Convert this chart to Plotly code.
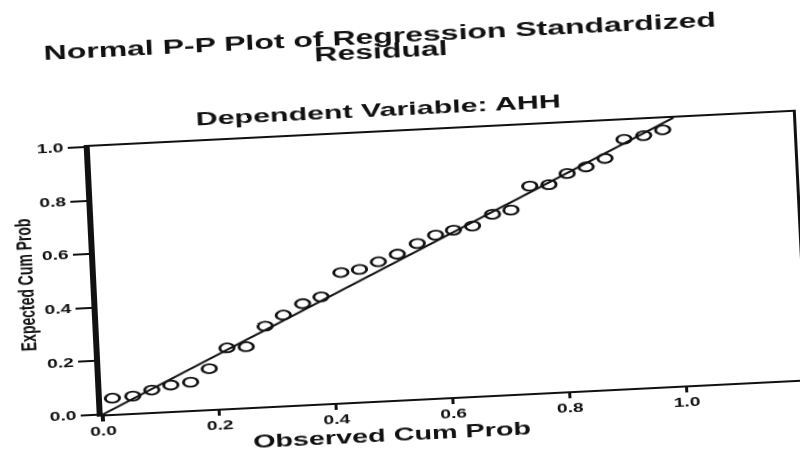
import plotly.graph_objects as go

# Observed vs expected cumulative probabilities of the standardized residuals
observed_cum_prob = [0.018, 0.053, 0.086, 0.119, 0.153, 0.186, 0.218, 0.251, 0.285, 0.317,
                     0.351, 0.383, 0.419, 0.451, 0.484, 0.517, 0.552, 0.584, 0.615, 0.648,
                     0.683, 0.715, 0.749, 0.782, 0.814, 0.847, 0.880, 0.914, 0.948, 0.981]
expected_cum_prob = [0.059, 0.063, 0.082, 0.097, 0.104, 0.151, 0.225, 0.226, 0.299, 0.337,
                     0.376, 0.398, 0.485, 0.493, 0.518, 0.543, 0.579, 0.607, 0.622, 0.634,
                     0.674, 0.686, 0.772, 0.774, 0.812, 0.833, 0.861, 0.929, 0.939, 0.957]

# Reference diagonal (perfect normality)
diag_x = [0.0, 1.0]
diag_y = [0.0, 1.0]

tick_vals = [0.0, 0.2, 0.4, 0.6, 0.8, 1.0]
tick_text = ["0.0", "0.2", "0.4", "0.6", "0.8", "1.0"]

title_line1 = "Normal P-P Plot of Regression Standardized"
title_line2 = "Residual"
subtitle = "Dependent Variable: AHH"
x_title = "Observed Cum Prob"
y_title = "Expected Cum Prob"

INK = "#111111"
FONT = "Liberation Sans, Arial, sans-serif"

fig = go.Figure()

fig.add_trace(go.Scatter(
    x=diag_x, y=diag_y, mode="lines",
    line=dict(color=INK, width=1.8),
    hoverinfo="skip", showlegend=False,
))

fig.add_trace(go.Scatter(
    x=observed_cum_prob, y=expected_cum_prob, mode="markers",
    marker=dict(symbol="circle-open", size=9, color=INK, line=dict(width=1.8, color=INK)),
    showlegend=False,
))

# thin right-hand frame edge
fig.add_trace(go.Scatter(x=[], y=[], yaxis="y2", showlegend=False))

fig.update_layout(
    width=510, height=453, autosize=False,
    margin=dict(l=60, r=10.4, t=131.7, b=53),
    paper_bgcolor="white", plot_bgcolor="white",
    font=dict(family=FONT, color=INK),
    xaxis=dict(
        range=[0, 1.205], tickvals=tick_vals, ticktext=tick_text,
        showgrid=False, zeroline=False,
        showline=True, linecolor=INK, linewidth=2, mirror=True,
        ticks="outside", ticklen=5, tickwidth=1.5, tickcolor=INK,
        tickfont=dict(size=12, family=FONT, weight="bold", color=INK),
    ),
    yaxis=dict(
        range=[0, 1.0], tickvals=tick_vals, ticktext=tick_text,
        showgrid=False, zeroline=False,
        showline=True, linecolor=INK, linewidth=4, mirror=False,
        ticks="outside", ticklen=10, tickwidth=1.5, tickcolor=INK,
        tickfont=dict(size=12, family=FONT, weight="bold", color=INK),
    ),
    yaxis2=dict(
        overlaying="y", side="right", range=[0, 1.0],
        showline=True, linecolor=INK, linewidth=1.6,
        showticklabels=False, ticks="", showgrid=False, zeroline=False,
    ),
    annotations=[
        dict(text=title_line1, x=0.4183, y=1.3578, xref="paper", yref="paper",
             xanchor="center", yanchor="middle", showarrow=False,
             font=dict(size=20, family=FONT, weight="bold", color=INK)),
        dict(text=title_line2, x=0.4188, y=1.3019, xref="paper", yref="paper",
             xanchor="center", yanchor="middle", showarrow=False,
             font=dict(size=20, family=FONT, weight="bold", color=INK)),
        dict(text=subtitle, x=0.4106, y=1.0857, xref="paper", yref="paper",
             xanchor="center", yanchor="middle", showarrow=False,
             font=dict(size=19, family=FONT, weight="bold", color=INK)),
        dict(text=x_title, x=0.4095, y=-0.1293, xref="paper", yref="paper",
             xanchor="center", yanchor="middle", showarrow=False,
             font=dict(size=18, family=FONT, weight="bold", color=INK)),
        dict(text=y_title, x=-0.1015, y=0.4965, xref="paper", yref="paper",
             xanchor="center", yanchor="middle", showarrow=False, textangle=-90,
             font=dict(size=14, family=FONT, weight="bold", color=INK)),
    ],
)

# Page layout: the chart sits slightly tilted and widened on the page
stretch_x = 1.6
tilt_a, tilt_b = 1.5981, -0.0795
tilt_c, tilt_d = 0.04845, 0.99888
shift_e, shift_f = -12.57, 19.72
matrix_css = "matrix(%g, %g, %g, %g, %g, %g)" % (tilt_a, tilt_b, tilt_c, tilt_d, shift_e, shift_f)

post_js = (
    "var gd = document.getElementById('{plot_id}');"
    "document.documentElement.style.overflow = 'hidden';"
    "document.body.style.overflow = 'hidden';"
    "document.body.style.margin = '0';"
    "gd.style.position = 'fixed'; gd.style.left = '0px'; gd.style.top = '0px';"
    "gd.style.transformOrigin = '0 0';"
    "gd.style.transform = '" + matrix_css + "';"
)

fig.write_html("out.html", post_script=post_js, config={"displayModeBar": False})
